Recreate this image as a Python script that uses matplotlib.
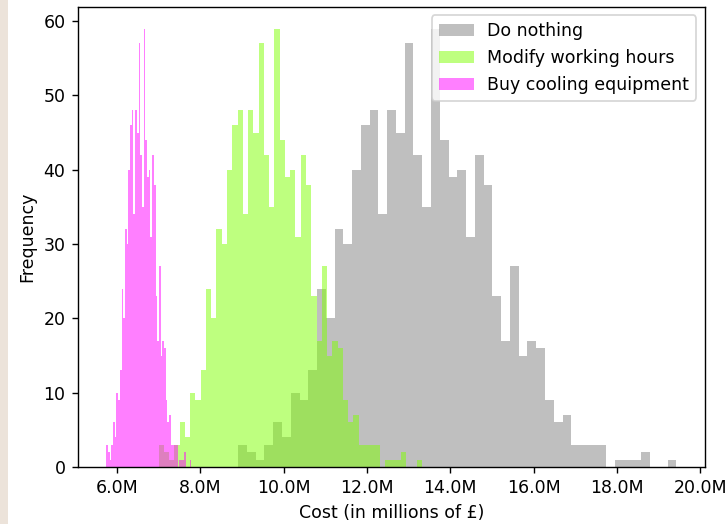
import matplotlib.pyplot as plt
import numpy as np
from matplotlib.patches import Rectangle
from matplotlib.ticker import FuncFormatter

# bin counts of the 1000 simulation runs (50 bins, same shape for every option)
counts = [3, 2, 1, 3, 6, 4, 10, 9, 13, 24, 20, 32, 30, 40, 46, 48, 34, 48, 45, 57,
          42, 35, 59, 44, 39, 40, 31, 42, 38, 23, 17, 27, 15, 17, 16, 9, 6, 7, 3, 3,
          3, 3, 0, 1, 1, 1, 2, 0, 0, 1]

# cost range (millions of pounds) covered by each option's histogram
do_nothing_range = (8.91, 19.43)
modify_hours_range = (6.998, 13.32)
cooling_range = (5.743, 7.784)

labels = ["Do nothing", "Modify working hours", "Buy cooling equipment"]
colors = ["grey", "#7FFF00", "magenta"]
xticks = [6, 8, 10, 12, 14, 16, 18, 20]

DPI = 125
fig = plt.figure(figsize=(726 / DPI, 524 / DPI), dpi=DPI)
# beige page strip on the left of the screenshot
fig.patches.append(Rectangle((0, 0), 8 / 726, 1, transform=fig.transFigure,
                             facecolor="#ece3da", edgecolor="none", zorder=-1))
ax = fig.add_axes([77.7 / 726, 57 / 524, (705 - 77.7) / 726, (467 - 6.7) / 524])

for rng, lab, col in zip([do_nothing_range, modify_hours_range, cooling_range], labels, colors):
    edges = np.linspace(rng[0], rng[1], len(counts) + 1)
    centers = (edges[:-1] + edges[1:]) / 2
    ax.hist(centers, bins=edges, weights=counts, color=col, alpha=0.5, label=lab)

ax.set_xticks(xticks)
ax.xaxis.set_major_formatter(FuncFormatter(lambda x, p: f"{x:.1f}M"))
ax.set_xlabel("Cost (in millions of £)")
ax.set_ylabel("Frequency")
ax.legend(loc="upper right")

fig.savefig("out.png", dpi=DPI)
